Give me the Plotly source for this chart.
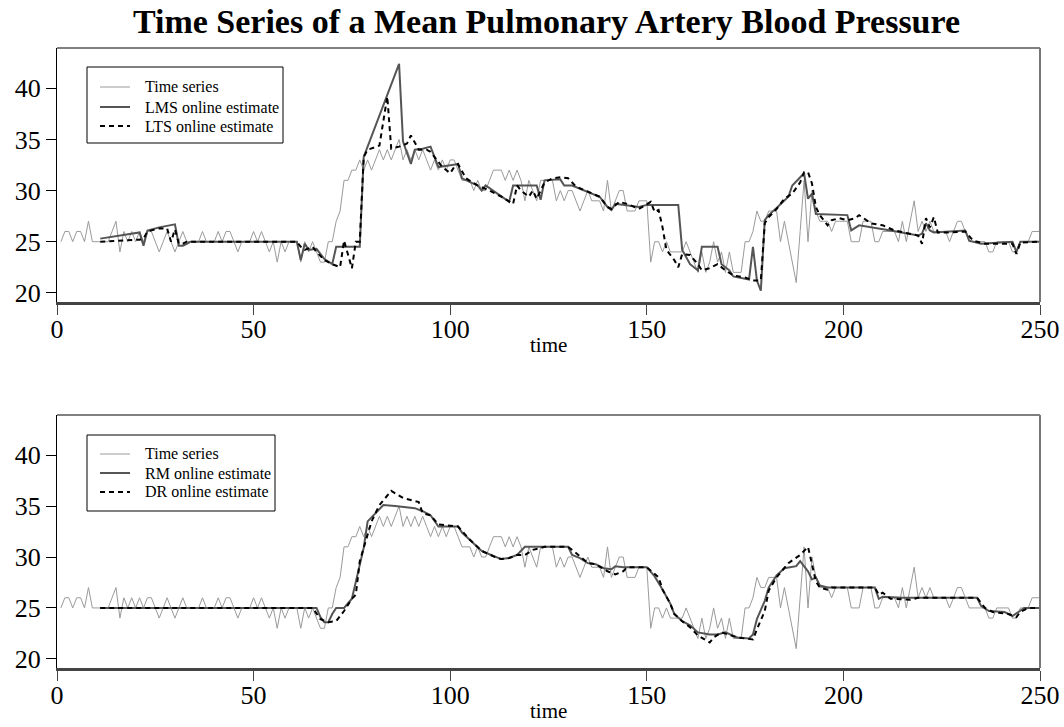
import plotly.graph_objects as go

# ---------------- data ----------------
t_series = list(range(1, 251))
pressure = [
    25, 26, 26, 25, 26, 26, 25, 27, 25, 25, 25, 25,
    25, 26, 27, 24, 26, 25, 26, 25,
    26, 25, 26, 26, 25, 24, 25, 26, 25, 24,
    25, 26, 25, 25, 25, 25, 26, 25, 25, 25,
    26, 25, 26, 26, 25, 24, 25, 25, 25, 26,
    25, 26, 25, 24, 25, 23, 25, 24, 25, 25,
    25, 23, 25, 24, 25, 24, 23, 23, 25, 25,
    27, 28, 31, 31, 32, 32, 33, 32, 33, 32,
    33, 34, 33, 34, 33, 34, 35, 33, 34, 33,
    34, 33, 34, 33, 32, 33, 32, 33, 32, 33,
    33, 32, 31, 31, 31, 30, 31, 30, 30, 31,
    32, 32, 32, 31, 32, 31, 32, 31, 29, 31,
    30, 29, 31, 31, 31, 31, 29, 30, 29, 30,
    30, 29, 28, 29, 30, 29, 29, 29, 28, 31,
    28, 29, 30, 30, 28, 28, 28, 29, 29, 29,
    23, 25, 25, 24, 25, 24, 24, 24, 24, 25,
    24, 23, 22, 24, 22, 23, 25, 23, 24, 22,
    24, 22, 22, 22, 25, 25, 26, 28, 27, 27,
    28, 28, 28, 25, 27, 25, 23, 21, 26, 31,
    25, 30, 28, 27, 27, 27, 26, 27, 27, 27,
    27, 25, 25, 25, 27, 27, 27, 25, 25, 26,
    26, 26, 26, 25, 27, 25, 27, 29, 26, 27,
    26, 27, 26, 26, 26, 26, 25, 26, 27, 27,
    26, 25, 25, 25, 25, 25, 24, 24, 25, 25,
    25, 25, 24, 24, 25, 25, 25, 26, 26, 26,
]

t_lms = [11, 21, 22, 23, 26, 30, 31, 32, 33, 34, 61, 62, 63, 64, 66, 67, 68, 70, 71, 77,
         78, 87, 88, 90, 91, 93, 95, 97, 102, 103, 107, 108, 109, 112, 115, 116, 122, 123,
         124, 128, 129, 131, 135, 138, 140, 141, 142, 148, 150, 158, 159, 161, 163, 164,
         168, 169, 171, 172, 176, 177, 178, 179, 180, 181, 183, 186, 187, 190, 191, 192,
         193, 201, 202, 204, 212, 219, 220, 221, 222, 223, 231, 232, 235, 243, 244, 245, 250]
lms = [25.3, 25.9, 24.6, 26.1, 26.4, 26.7, 24.6, 24.6, 24.8, 25, 25, 23.2, 24.8, 24.2, 24.3,
       23.8, 23.3, 22.8, 24.5, 24.5, 33.3, 42.4, 34.8, 32.6, 34, 34.1, 34.3, 32.3, 32.6, 31.2,
       30.5, 30, 30.5, 29.7, 28.9, 30.5, 30.5, 29.1, 31, 31.1, 30.5, 30.5, 29.9, 29.4, 28.4,
       28.1, 28.7, 28.4, 28.6, 28.6, 24.2, 22.8, 22.2, 24.5, 24.5, 22.8, 22.2, 21.6, 21.3,
       24.5, 21.2, 20.2, 27.1, 27.6, 28.3, 29.4, 30.5, 31.7, 29.2, 29.7, 27.7, 27.6, 26.1,
       26.6, 26.1, 25.6, 25.8, 26.8, 26.1, 25.9, 26.1, 25.1, 24.8, 25, 24, 25, 25]

t_lts = [11, 21, 22, 23, 26, 28, 29, 30, 31, 32, 33, 61, 62, 63, 65, 66, 68, 70, 72, 73, 75,
         76, 77, 78, 79, 82, 84, 85, 87, 89, 90, 92, 94, 95, 98, 100, 101, 102, 104, 107, 110,
         113, 116, 117, 118, 120, 121, 122, 124, 126, 128, 130, 132, 135, 138, 140, 141, 143,
         145, 148, 150, 151, 152, 153, 154, 155, 157, 158, 159, 161, 163, 164, 166, 168, 170,
         172, 175, 177, 179, 180, 181, 183, 185, 187, 189, 190, 191, 192, 193, 194, 196, 197,
         199, 201, 203, 204, 207, 210, 213, 217, 219, 220, 221, 222, 223, 224, 227, 231, 233,
         236, 243, 244, 245, 250]
lts = [25, 25.2, 25.3, 26, 26.3, 26.3, 25, 26.2, 24.8, 24.8, 25, 25, 24.5, 24.2, 24.5, 24,
       23.2, 22.8, 22.5, 25.1, 22.4, 25, 25, 33.3, 34, 34.4, 39.2, 34.1, 34.3, 34.6, 35.4, 34,
       34, 33.8, 32.3, 31.7, 32.3, 32.6, 31.2, 30.5, 30, 29.4, 28.7, 30.5, 30, 29.4, 30, 29.2,
       30.8, 31.2, 31.3, 31.2, 30.4, 29.9, 29.4, 28.4, 28.2, 28.9, 28.7, 28.2, 28.7, 28.9,
       27.9, 28.1, 26.4, 24.2, 23.2, 22.5, 23.8, 23.7, 22.8, 22.2, 22.4, 22.8, 22.2, 21.7,
       21.5, 21.2, 21.2, 26.8, 27.4, 28.2, 29.2, 29.7, 30.8, 31.8, 31.8, 30.7, 28.4, 27.6,
       26.6, 27.1, 27.3, 27.1, 27.3, 27.6, 26.8, 26.6, 26.1, 25.8, 25.6, 24.8, 27.3, 26.4,
       27.4, 25.9, 25.9, 26, 25.1, 24.8, 24.8, 23.8, 24.9, 25]

t_rm = [11, 66, 67, 68, 69, 70, 71, 73, 75, 76, 78, 79, 81, 83, 86, 88, 91, 93, 95, 97, 102,
        103, 105, 108, 111, 113, 115, 117, 119, 130, 131, 133, 135, 137, 139, 141, 142, 144,
        150, 152, 154, 156, 157, 159, 161, 163, 166, 168, 170, 173, 176, 177, 178, 180, 181,
        183, 185, 188, 189, 191, 192, 193, 194, 196, 208, 209, 210, 215, 234, 235, 237, 241,
        243, 245, 246, 250]
rm = [25, 25, 24.1, 23.6, 23.6, 24.4, 25, 25, 25.9, 27.6, 30.9, 33.5, 34.3, 35.1, 35, 34.9,
      34.8, 34.5, 34.1, 33, 33, 32.4, 31.7, 30.6, 30.1, 29.8, 29.9, 30.2, 31, 31, 30.2, 29.9,
      29.4, 29.3, 28.9, 28.8, 29.1, 29, 29, 28.1, 26.8, 25.4, 24.4, 23.7, 23.3, 22.6, 22.4,
      22.4, 22.6, 22.1, 22, 22.4, 23.9, 25.7, 27, 28.2, 28.9, 29.1, 29.6, 28.6, 27.8, 28,
      27.2, 27, 27, 25.9, 26.1, 26, 26, 25.2, 24.7, 24.6, 24.2, 24.7, 25, 25]

t_dr = [11, 65, 67, 69, 71, 73, 75, 76, 77, 79, 80, 82, 85, 88, 92, 93, 95, 97, 102, 105, 108,
        112, 113, 115, 117, 119, 121, 124, 130, 132, 135, 137, 140, 142, 144, 145, 150, 153,
        154, 156, 157, 159, 161, 163, 166, 167, 169, 173, 176, 177, 178, 180, 181, 183, 186,
        189, 191, 192, 193, 194, 196, 197, 208, 209, 210, 212, 215, 217, 219, 234, 236, 238,
        242, 244, 245, 247, 250]
dr = [25, 25, 23.9, 23.6, 23.7, 24.7, 25.9, 26.3, 29.6, 32.2, 33.5, 35.1, 36.5, 35.8, 35.4,
      34.3, 34.1, 33.2, 33, 31.7, 30.6, 29.9, 29.8, 29.9, 30.2, 30.2, 30.7, 31, 31, 30.4,
      29.4, 29.3, 28.6, 28.3, 28.6, 29, 29, 28, 26.8, 25.4, 24.4, 23.7, 23.1, 22.3, 21.6,
      22.1, 22.6, 22.1, 22, 21.9, 22.9, 24.7, 26.7, 28, 29.4, 30.2, 31, 29.3, 27.6, 27, 26.8,
      27, 27, 26.3, 26.5, 25.9, 25.8, 25.8, 26, 26, 25, 24.6, 24.4, 24.1, 24.6, 25, 25]

x_ticks = [0, 50, 100, 150, 200, 250]
y_ticks = [20, 25, 30, 35, 40]
title_text = "Time Series of a Mean Pulmonary Artery Blood Pressure"
x_label = "time"
legend_top = ["Time series", "LMS online estimate", "LTS online estimate"]
legend_bot = ["Time series", "RM online estimate", "DR online estimate"]

# ---------------- styling ----------------
FONT = "Liberation Serif, Times New Roman, serif"
GRAY = "#9a9a9a"
DARK = "#555555"
W, H = 1064, 727
L, R, T, B = 57, 1040, 48, 668          # plot area in pixels
PW, PH = R - L, B - T

def px(xp):
    return (xp - L) / PW

def py(yp):
    return (B - yp) / PH

styles = [dict(color=GRAY, width=1), dict(color=DARK, width=2),
          dict(color="black", width=2, dash="5px,4px")]

fig = go.Figure()

def add_panel(xa, ya, names, est1_t, est1, est2_t, est2):
    fig.add_trace(go.Scatter(x=t_series, y=pressure, mode="lines", name=names[0],
                             line=styles[0], xaxis=xa, yaxis=ya, showlegend=False))
    fig.add_trace(go.Scatter(x=est1_t, y=est1, mode="lines", name=names[1],
                             line=styles[1], xaxis=xa, yaxis=ya, showlegend=False))
    fig.add_trace(go.Scatter(x=est2_t, y=est2, mode="lines", name=names[2],
                             line=styles[2], xaxis=xa, yaxis=ya, showlegend=False))

add_panel("x", "y", legend_top, t_lms, lms, t_lts, lts)
add_panel("x2", "y2", legend_bot, t_rm, rm, t_dr, dr)

xcommon = dict(range=[0, 250], tickvals=x_ticks, ticks="outside", ticklen=10, tickwidth=1,
               tickcolor="#444444", showline=True, linecolor="#444444", linewidth=2.5,
               showgrid=False, zeroline=False, automargin=False, ticklabelstandoff=-8,
               tickfont=dict(family=FONT, size=26, color="black"))
ycommon = dict(range=[19.1, 43.95], tickvals=y_ticks, ticks="outside", ticklen=10, tickwidth=1,
               tickcolor="black", showline=True, linecolor="black", linewidth=1,
               showgrid=False, zeroline=False, automargin=False,
               tickfont=dict(family=FONT, size=26, color="black"))

top_dom = [py(302), 1.0]
bot_dom = [0.0, py(415)]

fig.update_layout(
    width=W, height=H,
    margin=dict(l=L, r=W - R, t=T, b=H - B, autoexpand=False),
    paper_bgcolor="white", plot_bgcolor="white",
    showlegend=False,
    title=dict(text="<b>" + title_text + "</b>", x=546.5 / W, xanchor="center",
               y=1 - 21 / H, yanchor="middle",
               font=dict(family=FONT, size=34, color="black")),
    xaxis=dict(domain=[0, 1], anchor="y", **xcommon),
    yaxis=dict(domain=top_dom, anchor="x", **ycommon),
    xaxis2=dict(domain=[0, 1], anchor="y2", **xcommon),
    yaxis2=dict(domain=bot_dom, anchor="x2", **ycommon),
)

# frame: top and right edges of each panel box
for xr, yr in (("x domain", "y domain"), ("x2 domain", "y2 domain")):
    fig.add_shape(type="line", xref=xr, yref=yr, x0=0, x1=1, y0=1, y1=1,
                  line=dict(color="black", width=1))
    fig.add_shape(type="line", xref=xr, yref=yr, x0=1, x1=1, y0=0, y1=1,
                  line=dict(color="#777777", width=2))

# axis titles
for yp in (345, 711):
    fig.add_annotation(text=x_label, xref="paper", yref="paper", x=px(548), y=py(yp),
                       xanchor="center", yanchor="middle", showarrow=False,
                       font=dict(family=FONT, size=21, color="black"))

# legends (box, line samples, labels)
def add_legend(box, rows, names):
    x0, y0, x1, y1 = box
    fig.add_shape(type="rect", xref="paper", yref="paper", x0=px(x0), x1=px(x1),
                  y0=py(y0), y1=py(y1), line=dict(color="black", width=1),
                  fillcolor="white", layer="above")
    for yr, nm, st in zip(rows, names, styles):
        fig.add_shape(type="line", xref="paper", yref="paper", x0=px(100), x1=px(130),
                      y0=py(yr), y1=py(yr), line=st, layer="above")
        fig.add_annotation(text=nm, xref="paper", yref="paper", x=px(143), y=py(yr),
                           xanchor="left", yanchor="middle", showarrow=False,
                           font=dict(family=FONT, size=16, color="black"))

add_legend((87, 67, 283, 143), (87, 107, 126), legend_top)
add_legend((87, 435, 275, 511), (454, 473, 492), legend_bot)

fig.write_html("out.html", config={"displayModeBar": False},
               post_script="document.body.style.margin='0px';document.body.style.overflow='hidden';")
